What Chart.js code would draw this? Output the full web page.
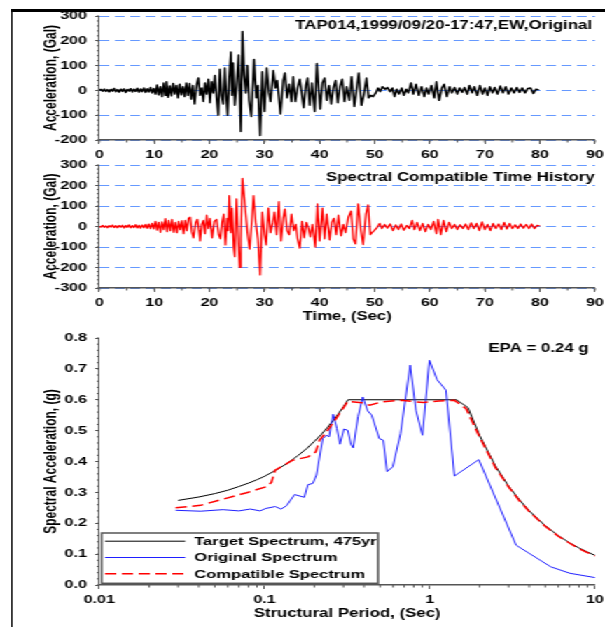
<!DOCTYPE html>
<html>
<head>
<meta charset="utf-8">
<script src="https://cdn.jsdelivr.net/npm/chart.js@4.4.1/dist/chart.umd.min.js"></script>
<style>
html, body { margin: 0; padding: 0; background: #fff; overflow: hidden; width: 605px; height: 627px; }
#stage { position: absolute; left: 0; top: 0; width: 432px; height: 627px; transform-origin: 0 0; }
#frame { position: absolute; left: 7.9px; top: 9px; width: 600px; height: 700px; border-left: 1.7px solid #000; border-top: 3px solid #000; }
canvas { position: absolute; left: 0; }
</style>
</head>
<body>
<div id="stage">
  <div id="frame"></div>
  <canvas id="orig" width="432" height="165" style="top:0px"></canvas>
  <canvas id="comp" width="432" height="180" style="top:150px"></canvas>
  <canvas id="spec" width="432" height="302" style="top:325px"></canvas>
</div>
<script>
// accelerogram, original record: [time (sec), acceleration (Gal)], read peak by peak
var originalRecord = [
  [0,0],[0.3,4],[0.6,-3],[0.9,5],[1.2,-4],[1.5,3],[1.8,-6],[2.1,4],[2.4,-3],[2.7,8],[3.0,-5],[3.3,3],[3.6,-7],[3.9,5],
  [4.2,-4],[4.5,6],[4.8,-8],[5.1,4],[5.4,-3],[5.7,7],[6.0,-6],[6.3,5],[6.6,-4],[6.9,9],[7.2,-7],[7.5,6],[7.8,-5],[8.1,10],
  [8.4,-8],[8.7,7],[9.0,-6],[9.3,12],[9.6,-10],[9.9,8],
  [10.2,-15],[10.5,22],[10.8,-18],[11.1,15],[11.4,-25],[11.7,30],[12.0,-20],[12.2,35],[12.5,-28],[12.8,18],[13.1,-22],
  [13.4,28],[13.7,-15],[14.0,20],[14.3,-30],[14.6,25],[14.9,-18],[15.2,15],[15.5,-25],[15.8,30],[16.1,-20],[16.4,28],[16.7,-35],
  [17.0,20],[17.3,-55],[17.7,25],[18.0,50],[18.3,-20],[18.6,10],[18.9,-45],[19.2,30],[19.5,-15],[19.8,45],[20.1,-50],
  [20.4,35],[20.7,-10],[21.0,60],[21.3,-30],[21.6,-100],[21.9,85],[22.2,-20],[22.5,-55],[22.8,90],[23.1,-40],[23.3,-100],
  [23.6,50],[23.9,155],[24.1,-20],[24.3,110],[24.6,-60],[24.9,15],[25.3,143],[25.7,-166],[25.85,40],[26.0,237],[26.3,60],
  [26.6,-10],[26.9,100],[27.2,-40],[27.6,-105],[27.9,30],[28.1,125],[28.5,-30],[28.8,20],[29.2,-182],[29.6,75],[30.0,-85],
  [30.4,90],[30.8,-10],[31.1,-45],[31.6,80],[32.0,10],[32.3,40],[32.9,-95],[33.4,40],[33.7,70],[34.1,-30],[34.5,25],
  [34.9,-45],[35.2,55],[35.6,-45],[36.0,10],[36.4,45],[36.8,-20],[37.1,-70],[37.5,20],[37.8,50],[38.2,-60],[38.6,30],
  [39.1,-85],[39.5,108],[40.1,-75],[40.5,30],[40.9,50],[41.3,-40],[41.7,20],[42.1,-55],[42.5,10],[42.9,40],[43.3,-50],
  [43.7,15],[44.1,45],[44.5,-45],[44.9,15],[45.4,-40],[45.8,55],[46.3,-65],[46.8,20],[47.1,70],[47.6,-60],[48.0,-20],
  [48.5,50],[48.9,-30],[49.3,-20],[49.7,-25],
  [50.2,-10],[50.6,10],[51.0,-5],[51.4,15],[51.9,5],[52.3,12],[52.8,-5],[53.2,10],[53.6,-25],[54.0,5],[54.4,-15],[54.9,10],
  [55.3,-20],[55.7,5],[56.1,-10],[56.6,30],[57.0,-15],[57.5,25],[58.0,-20],[58.5,15],[59.0,-25],[59.4,10],[59.8,-15],
  [60.3,20],[60.8,-30],[61.2,35],[61.7,-40],[62.2,10],[62.6,25],[63.1,-25],[63.6,15],[64.0,-10],[64.5,12],[65.0,-15],
  [65.4,10],[65.9,-8],[66.3,12],[66.8,-15],[67.2,20],[67.7,-10],[68.1,15],[68.6,-20],[69.1,20],[69.6,-15],[70.0,10],
  [70.5,-20],[70.9,15],[71.4,-10],[71.8,12],[72.3,-15],[72.8,18],[73.3,-10],[73.8,15],[74.3,-15],[74.8,10],[75.3,-10],
  [75.8,12],[76.3,-8],[76.8,10],[77.3,-10],[77.8,8],[78.3,10],[78.8,-12],[79.3,5],[79.8,2]
];

// accelerogram, spectrum compatible record: [time (sec), acceleration (Gal)]
var compatibleRecord = [
  [0,0],[0.3,-3],[0.6,5],[0.9,-4],[1.2,3],[1.5,-6],[1.8,4],[2.1,-3],[2.4,7],[2.7,-5],[3.0,4],[3.3,-6],[3.6,5],[3.9,-3],
  [4.2,6],[4.5,-7],[4.8,5],[5.1,-4],[5.4,8],[5.7,-6],[6.0,4],[6.3,-5],[6.6,9],[6.9,-7],[7.2,6],[7.5,-8],[7.8,7],[8.1,-6],
  [8.4,10],[8.7,-9],[9.0,12],[9.3,-10],[9.6,15],[9.9,-12],
  [10.2,25],[10.5,-18],[10.8,20],[11.1,-28],[11.4,22],[11.7,-15],[12.0,38],[12.3,-25],[12.6,30],[12.9,-20],[13.2,35],
  [13.5,-28],[13.8,20],[14.1,-30],[14.4,25],[14.7,-15],[15.0,28],[15.3,-35],[15.6,30],[15.9,-20],[16.2,40],[16.5,45],[16.8,-25],
  [17.1,-55],[17.5,20],[17.8,35],[18.1,-20],[18.3,-70],[18.6,10],[18.9,30],[19.2,-35],[19.5,55],[19.8,-10],[20.1,40],
  [20.5,-55],[20.9,25],[21.3,35],[21.7,-40],[22.0,-60],[22.3,20],[22.6,60],[22.9,-90],[23.2,40],[23.4,-20],[23.6,150],
  [23.9,-30],[24.1,90],[24.4,-100],[24.6,-147],[24.9,135],[25.2,-40],[25.5,-199],[25.7,-60],[26.0,235],[26.3,150],
  [26.6,60],[26.9,-30],[27.3,-110],[27.7,30],[28.0,150],[28.4,20],[28.8,-60],[29.2,-236],[29.6,70],[30.0,-40],[30.3,-90],
  [30.7,90],[31.1,-30],[31.5,20],[31.8,70],[32.2,-40],[32.6,121],[33.0,-70],[33.4,40],[33.7,85],[34.1,-20],[34.5,-40],
  [34.9,60],[35.3,-20],[35.7,10],[36.0,-60],[36.4,-105],[36.8,25],[37.2,-55],[37.6,20],[38.0,-10],[38.3,-50],[38.7,10],
  [39.2,-100],[39.6,110],[40.0,-70],[40.5,90],[40.9,-60],[41.3,60],[41.8,-65],[42.2,20],[42.6,40],[43.0,-40],[43.4,55],
  [43.9,-45],[44.3,10],[44.7,-30],[45.2,45],[45.7,75],[46.1,-60],[46.5,-85],[47.0,110],[47.5,-20],[47.9,-88],[48.4,60],
  [48.8,105],[49.2,-40],[49.5,-30],
  [49.9,-20],[50.4,-5],[50.9,15],[51.3,-10],[51.8,10],[52.3,-8],[52.8,12],[53.3,-20],[53.8,8],[54.3,-15],[54.8,12],
  [55.3,-18],[55.8,5],[56.3,-10],[56.8,30],[57.2,-15],[57.7,20],[58.2,-20],[58.7,15],[59.2,-25],[59.7,10],[60.2,-15],
  [60.7,25],[61.2,-35],[61.5,35],[62.0,-40],[62.5,30],[63.0,-25],[63.5,20],[64.0,-10],[64.5,10],[65.0,-15],[65.5,8],
  [66.0,-10],[66.5,12],[67.0,-15],[67.5,18],[68.0,-10],[68.5,15],[69.0,-20],[69.5,22],[70.0,-15],[70.5,10],[71.0,-20],
  [71.5,15],[72.0,-10],[72.5,12],[73.0,-15],[73.5,20],[74.0,-12],[74.5,15],[75.0,-10],[75.5,8],[76.0,-10],[76.5,12],
  [77.0,-8],[77.5,10],[78.0,-10],[78.5,12],[79.0,-10],[79.5,5],[80.0,3]
];

// response spectra: period (sec) and spectral acceleration (g)
var targetPeriod = [0.03,0.04,0.05,0.06,0.07,0.08,0.09,0.1,0.12,0.14,0.16,0.18,0.2,0.22,0.24,0.26,0.28,0.3,0.32,
  1.45,1.7,2,2.5,3,3.5,4,5,6,7,8,9,10];
var targetSa = [0.274,0.285,0.296,0.307,0.319,0.330,0.341,0.352,0.375,0.397,0.420,0.442,0.465,0.487,0.510,0.532,0.555,0.577,0.600,
  0.600,0.575,0.485,0.385,0.320,0.275,0.240,0.192,0.160,0.137,0.120,0.107,0.096];

var originalPeriod = [0.029,0.041,0.056,0.070,0.082,0.094,0.102,0.116,0.126,0.136,0.152,0.174,0.183,0.196,0.206,0.225,
  0.237,0.246,0.260,0.274,0.286,0.302,0.319,0.333,0.344,0.368,0.393,0.421,0.445,0.495,0.523,0.551,0.597,0.665,0.761,
  0.824,0.903,0.995,1.107,1.253,1.41,1.98,3.33,5.4,7.05,10];
var originalSa = [0.242,0.239,0.244,0.240,0.246,0.240,0.248,0.254,0.246,0.257,0.293,0.284,0.325,0.329,0.356,0.474,
  0.485,0.480,0.553,0.507,0.456,0.505,0.501,0.456,0.444,0.545,0.609,0.564,0.550,0.474,0.469,0.367,0.383,0.490,0.712,
  0.566,0.485,0.728,0.665,0.631,0.353,0.406,0.129,0.059,0.038,0.024];

var compatiblePeriod = [0.029,0.041,0.056,0.078,0.102,0.110,0.116,0.129,0.148,0.183,0.204,0.215,0.240,0.267,0.319,
  0.389,0.433,0.508,0.665,0.918,1.138,1.41,1.66,2,2.5,3,3.5,4,5,6,7,8,9,10];
var compatibleSa = [0.250,0.258,0.278,0.299,0.318,0.332,0.372,0.386,0.404,0.415,0.431,0.469,0.500,0.534,0.595,
  0.590,0.582,0.593,0.598,0.591,0.596,0.598,0.571,0.480,0.380,0.318,0.272,0.238,0.190,0.158,0.136,0.118,0.105,0.094];

var periodTicks = [0.01, 0.1, 1, 10];

// the original figure is stretched sideways, so draw narrow and widen
var STAGE_W = 432;
var S = 605 / STAGE_W;
document.getElementById('stage').style.transform = 'scaleX(' + S + ')';
var PLOT_LEFT = 99.3 / S;
var PAD_RIGHT = STAGE_W - 595 / S;
var FONT = "'Liberation Sans', Arial, Helvetica, sans-serif";
var AXIS = '#555';
var GRID_BLUE = 'rgb(102,153,255)';

Chart.defaults.font.family = FONT;
Chart.defaults.font.weight = 'bold';
Chart.defaults.font.size = 11.5;
Chart.defaults.color = '#000';
Chart.defaults.animation = false;
Chart.defaults.plugins.legend.display = false;
Chart.defaults.plugins.tooltip.enabled = false;

function pairs(xs, ys) {
    return xs.map(function (x, i) { return {x: x, y: ys[i]}; });
}

// small ticks between the labelled ones
var minorTicks = {
    id: 'minorTicks',
    afterDraw: function (chart, args, opts) {
        var ctx = chart.ctx, xs = chart.scales.x, ys = chart.scales.y, area = chart.chartArea;
        ctx.save();
        ctx.strokeStyle = AXIS;
        ctx.lineWidth = 1;
        ctx.beginPath();
        var n = Math.round((ys.max - ys.min) / opts.yStep);
        for (var i = 0; i <= n; i++) {
            var py = ys.getPixelForValue(ys.min + i * opts.yStep);
            ctx.moveTo(area.left - 1.8, py);
            ctx.lineTo(area.left, py);
        }
        var xv = [];
        if (opts.xLog) {
            for (var d = 0; d < periodTicks.length - 1; d++) {
                for (var k = 2; k <= 9; k++) xv.push(k * periodTicks[d]);
            }
        } else {
            var m = Math.round((xs.max - xs.min) / opts.xStep);
            for (var j = 0; j <= m; j++) xv.push(xs.min + j * opts.xStep);
        }
        xv.forEach(function (v) {
            var px = xs.getPixelForValue(v);
            ctx.moveTo(px, area.bottom);
            ctx.lineTo(px, area.bottom + 2.5);
        });
        ctx.stroke();
        ctx.restore();
    }
};

// caption in the upper right corner of a panel
var cornerText = {
    id: 'cornerText',
    afterDatasetsDraw: function (chart, args, opts) {
        if (!opts.text) return;
        var ctx = chart.ctx, area = chart.chartArea;
        ctx.save();
        ctx.font = 'bold 12px ' + FONT;
        ctx.fillStyle = '#000';
        ctx.textAlign = 'right';
        ctx.textBaseline = 'middle';
        ctx.fillText(opts.text, area.right - opts.dx, area.top + opts.dy);
        ctx.restore();
    }
};

// boxed legend at the lower left of the spectrum panel
var boxLegend = {
    id: 'boxLegend',
    afterDatasetsDraw: function (chart, args, opts) {
        if (!opts.show) return;
        var ctx = chart.ctx, area = chart.chartArea;
        var left = area.left + 1.7, top = area.bottom - 52, w = 197.3, h = 50.3;
        ctx.save();
        ctx.fillStyle = '#fff';
        ctx.fillRect(left, top, w, h);
        ctx.strokeStyle = '#555';
        ctx.lineWidth = 1.5;
        ctx.strokeRect(left, top, w, h);
        var rows = [area.bottom - 43.8, area.bottom - 27.5, area.bottom - 11.2];
        chart.data.datasets.forEach(function (ds, i) {
            ctx.strokeStyle = ds.borderColor;
            ctx.lineWidth = ds.borderWidth;
            ctx.setLineDash(ds.borderDash || []);
            ctx.beginPath();
            ctx.moveTo(area.left + 4.1, rows[i]);
            ctx.lineTo(area.left + 61.4, rows[i]);
            ctx.stroke();
            ctx.setLineDash([]);
            ctx.fillStyle = '#000';
            ctx.font = 'bold 11.8px ' + FONT;
            ctx.textBaseline = 'middle';
            ctx.fillText(ds.label, area.left + 67.8, rows[i] + 0.5);
        });
        ctx.restore();
    }
};

// fixed left width so every panel starts its plot at the same place
function yAxis(title, min, max, step, fmt, onArea) {
    return {
        min: min, max: max,
        afterFit: function (s) { s.width = PLOT_LEFT; },
        ticks: {stepSize: step, padding: 5.8, callback: fmt},
        grid: {drawOnChartArea: onArea, color: GRID_BLUE, lineWidth: 1, tickLength: 3, tickColor: AXIS, tickWidth: 1},
        border: {color: AXIS, width: 1, dash: [7, 4]},
        title: {display: true, text: title, font: {size: 12, weight: 'bold'}, padding: {top: 29.2, bottom: 0}}
    };
}

function xAxisTitle(text) {
    return {display: !!text, text: text || '', font: {size: 12, weight: 'bold'}, padding: {top: 0, bottom: 5.8}};
}

function fixX(height) {
    return function (s) {
        s.height = height;
        s.paddingLeft = 0;
        s.paddingRight = 0;
    };
}

function timeHistory(id, record, color, width, yMin, padTop, xHeight, note, dx, dy, xTitle) {
    return new Chart(document.getElementById(id), {
        type: 'line',
        data: {
            datasets: [{
                data: record.map(function (p) { return {x: p[0], y: p[1]}; }),
                borderColor: color,
                borderWidth: width,
                pointRadius: 0,
                tension: 0,
                borderJoinStyle: 'round'
            }]
        },
        options: {
            responsive: false,
            layout: {padding: {top: padTop, right: PAD_RIGHT, left: 0, bottom: 0}},
            scales: {
                x: {
                    type: 'linear', min: 0, max: 90,
                    afterFit: fixX(xHeight),
                    ticks: {stepSize: 10, padding: 3.5, autoSkip: false},
                    grid: {drawOnChartArea: false, tickLength: 4, tickColor: AXIS, tickWidth: 1},
                    border: {color: AXIS, width: 1.5},
                    title: xAxisTitle(xTitle)
                },
                y: yAxis('Acceleration, (Gal)', yMin, 300, 100, function (v) { return v; }, true)
            },
            plugins: {
                minorTicks: {yStep: 20, xStep: 5},
                cornerText: {text: note, dx: dx, dy: dy},
                boxLegend: {show: false}
            }
        },
        plugins: [minorTicks, cornerText, boxLegend]
    });
}

timeHistory('orig', originalRecord, '#000', 1.5, -200, 16, 25,
    'TAP014,1999/09/20-17:47,EW,Original', 2.1, 10, null);
timeHistory('comp', compatibleRecord, '#ff0000', 1.3, -300, 15, 42,
    'Spectral Compatible Time History', 0.3, 12.5, 'Time, (Sec)');

new Chart(document.getElementById('spec'), {
    type: 'line',
    data: {
        datasets: [{
            label: 'Target Spectrum, 475yr',
            data: pairs(targetPeriod, targetSa),
            borderColor: '#000', borderWidth: 1, pointRadius: 0, tension: 0, order: 3
        }, {
            label: 'Original Spectrum',
            data: pairs(originalPeriod, originalSa),
            borderColor: '#1f1fff', borderWidth: 1, pointRadius: 0, tension: 0, order: 2
        }, {
            label: 'Compatible Spectrum',
            data: pairs(compatiblePeriod, compatibleSa),
            borderColor: '#ff0000', borderWidth: 1.5, borderDash: [8, 4], pointRadius: 0, tension: 0, order: 1
        }]
    },
    options: {
        responsive: false,
        layout: {padding: {top: 13, right: PAD_RIGHT, left: 0, bottom: 0}},
        scales: {
            x: {
                type: 'logarithmic', min: 0.01, max: 10,
                afterFit: fixX(42),
                afterBuildTicks: function (s) { s.ticks = periodTicks.map(function (v) { return {value: v}; }); },
                ticks: {padding: 3.5, autoSkip: false, callback: function (v) { return String(v); }},
                grid: {drawOnChartArea: false, tickLength: 4, tickColor: AXIS, tickWidth: 1},
                border: {color: AXIS, width: 1.5},
                title: xAxisTitle('Structural Period, (Sec)')
            },
            y: yAxis('Spectral Acceleration, (g)', 0, 0.8, 0.1, function (v) { return v.toFixed(1); }, false)
        },
        plugins: {
            minorTicks: {yStep: 0.02, xLog: true},
            cornerText: {text: 'EPA = 0.24 g', dx: 4.6, dy: 11},
            boxLegend: {show: true}
        }
    },
    plugins: [minorTicks, cornerText, boxLegend]
});
</script>
</body>
</html>
